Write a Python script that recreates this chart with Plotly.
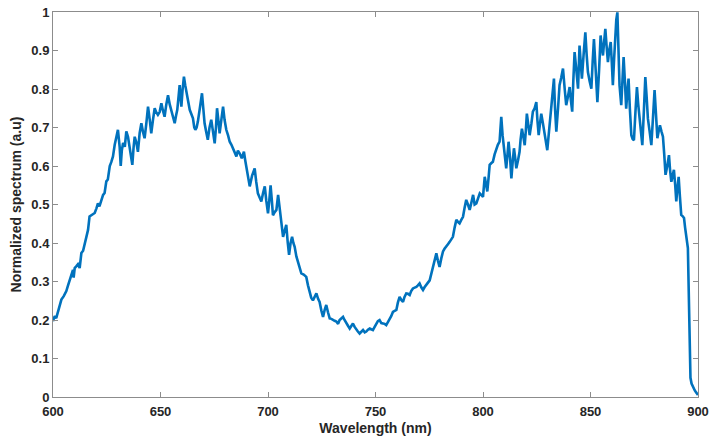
import plotly.graph_objects as go

wavelength = [
    600.0, 600.8, 601.5, 602.3, 603.1, 603.9, 605.0, 606.2, 607.0, 607.8, 608.5, 609.3, 609.6, 610.1, 610.9,
    611.6, 612.4, 613.2, 614.0, 614.7, 615.5, 616.3, 617.0, 618.0, 619.4, 620.2, 620.9, 621.6, 622.5, 623.3,
    624.0, 624.8, 625.5, 626.4, 627.1, 627.9, 628.7, 629.5, 630.2, 631.0, 631.5, 632.0, 632.6, 633.4, 634.1,
    634.9, 635.7, 636.3, 636.9, 637.5, 638.0, 638.8, 639.5, 640.3, 641.1, 641.8, 642.6, 643.4, 644.2, 645.0,
    645.7, 646.5, 647.3, 648.0, 648.8, 649.6, 650.4, 651.1, 651.9, 652.7, 653.5, 654.3, 655.0, 655.8, 656.6,
    657.2, 657.8, 658.4, 658.9, 659.3, 659.7, 660.3, 660.9, 661.5, 662.0, 662.8, 663.6, 664.4, 665.1, 665.7,
    666.2, 666.8, 667.4, 668.3, 669.3, 669.9, 670.5, 671.2, 672.0, 672.8, 673.6, 674.4, 675.2, 675.8, 676.3,
    676.9, 677.5, 678.3, 679.1, 679.8, 680.6, 681.4, 682.2, 683.0, 683.7, 684.5, 685.3, 686.0, 686.8, 687.8,
    688.8, 689.4, 689.9, 690.7, 691.5, 692.6, 693.8, 694.5, 695.3, 696.1, 696.9, 697.7, 698.5, 699.2, 700.0,
    700.6, 701.2, 701.8, 702.3, 703.1, 703.9, 704.7, 705.3, 705.9, 706.5, 707.0, 707.7, 708.5, 709.2, 709.8,
    710.5, 711.2, 711.8, 712.4, 713.2, 714.0, 714.8, 715.5, 716.6, 717.8, 718.6, 719.4, 720.1, 720.9, 721.7,
    722.5, 723.3, 724.0, 724.8, 725.6, 726.3, 727.1, 727.9, 728.7, 729.5, 730.2, 731.0, 731.8, 732.6, 733.3,
    734.1, 734.9, 735.6, 736.4, 737.2, 738.0, 738.7, 739.5, 740.3, 741.1, 741.8, 742.6, 743.4, 744.2, 745.0,
    745.7, 746.5, 747.3, 748.0, 748.8, 749.6, 750.4, 751.1, 751.9, 752.7, 753.5, 754.3, 755.0, 755.8, 756.6,
    757.3, 758.1, 758.9, 759.7, 760.4, 761.2, 762.0, 762.8, 763.5, 764.3, 765.1, 765.9, 766.6, 767.4, 768.2,
    769.0, 769.7, 770.5, 771.3, 772.1, 772.8, 773.6, 774.4, 775.2, 775.9, 776.7, 777.5, 778.3, 779.0, 779.8,
    780.6, 781.4, 782.1, 782.9, 783.7, 784.5, 785.2, 786.0, 786.8, 787.6, 788.3, 789.1, 789.9, 790.7, 791.4,
    792.2, 793.0, 793.8, 794.6, 795.4, 796.1, 796.9, 797.7, 798.5, 799.2, 800.0, 800.8, 801.4, 802.0, 802.6,
    803.1, 803.8, 804.6, 805.4, 806.2, 806.9, 807.7, 808.5, 809.1, 809.7, 810.2, 810.8, 811.4, 811.9, 812.6,
    813.2, 813.8, 814.4, 815.0, 815.5, 816.3, 817.0, 817.5, 818.1, 818.8, 819.4, 819.9, 820.4, 821.0, 821.7,
    822.5, 823.2, 824.0, 824.8, 825.3, 825.9, 826.5, 827.1, 827.9, 828.7, 829.3, 829.9, 830.7, 831.5, 832.2,
    833.0, 833.5, 834.1, 834.9, 835.6, 836.4, 837.2, 838.0, 838.7, 839.5, 840.3, 840.9, 841.5, 842.0, 842.6,
    843.4, 844.2, 844.9, 845.5, 846.0, 846.8, 847.6, 848.2, 848.8, 849.6, 850.4, 851.0, 851.6, 852.4, 853.2,
    854.0, 854.7, 855.2, 855.8, 856.3, 856.9, 857.5, 858.1, 858.7, 859.4, 859.9, 860.4, 861.0, 861.5, 862.0,
    862.5, 863.0, 863.5, 864.3, 864.9, 865.4, 866.0, 866.6, 867.1, 867.7, 868.3, 869.0, 869.6, 870.2, 870.9,
    871.6, 872.2, 872.8, 873.5, 874.1, 874.8, 875.5, 876.1, 876.7, 877.5, 878.3, 879.0, 879.8, 880.5, 881.1,
    881.7, 882.3, 883.0, 883.7, 884.3, 884.9, 885.7, 886.5, 887.0, 887.6, 888.2, 888.8, 889.4, 889.9, 890.4,
    891.0, 891.6, 892.2, 892.8, 893.5, 894.0, 894.5, 895.0, 895.3, 895.6, 895.9, 896.2, 896.5, 897.0, 897.5,
    898.0, 898.5, 899.0, 899.5, 900.0,
]

spectrum = [
    0.197, 0.21, 0.205, 0.22, 0.24, 0.253, 0.262, 0.275, 0.29, 0.305, 0.315, 0.33, 0.31, 0.335, 0.34,
    0.345, 0.335, 0.374, 0.38, 0.395, 0.41, 0.434, 0.469, 0.472, 0.478, 0.49, 0.503, 0.495, 0.515, 0.525,
    0.53, 0.56, 0.565, 0.6, 0.61, 0.625, 0.655, 0.676, 0.694, 0.65, 0.6, 0.64, 0.66, 0.65, 0.69,
    0.675, 0.65, 0.63, 0.603, 0.65, 0.676, 0.66, 0.637, 0.685, 0.711, 0.69, 0.672, 0.71, 0.754, 0.72,
    0.685, 0.72, 0.75, 0.74, 0.733, 0.74, 0.763, 0.745, 0.728, 0.76, 0.784, 0.76, 0.746, 0.73, 0.711,
    0.73, 0.746, 0.78, 0.81, 0.78, 0.754, 0.80, 0.832, 0.81, 0.789, 0.77, 0.746, 0.735, 0.724, 0.70,
    0.694, 0.70, 0.716, 0.75, 0.789, 0.75, 0.711, 0.69, 0.668, 0.70, 0.72, 0.69, 0.659, 0.70, 0.75,
    0.72, 0.685, 0.72, 0.754, 0.72, 0.694, 0.68, 0.663, 0.655, 0.646, 0.635, 0.625, 0.64, 0.633, 0.62,
    0.637, 0.615, 0.6, 0.57, 0.547, 0.575, 0.594, 0.56, 0.529, 0.518, 0.508, 0.53, 0.547, 0.51, 0.477,
    0.51, 0.55, 0.51, 0.472, 0.48, 0.486, 0.525, 0.49, 0.46, 0.44, 0.416, 0.435, 0.447, 0.40, 0.369,
    0.40, 0.416, 0.40, 0.39, 0.365, 0.347, 0.33, 0.321, 0.318, 0.312, 0.29, 0.269, 0.258, 0.251, 0.262,
    0.269, 0.255, 0.247, 0.225, 0.208, 0.225, 0.239, 0.22, 0.204, 0.203, 0.2, 0.198, 0.196, 0.19, 0.2,
    0.204, 0.208, 0.2, 0.191, 0.185, 0.178, 0.185, 0.191, 0.182, 0.174, 0.17, 0.165, 0.17, 0.174, 0.168,
    0.17, 0.175, 0.178, 0.176, 0.174, 0.182, 0.191, 0.197, 0.2, 0.192, 0.191, 0.19, 0.187, 0.195, 0.2,
    0.21, 0.221, 0.223, 0.226, 0.245, 0.26, 0.252, 0.247, 0.26, 0.269, 0.268, 0.265, 0.275, 0.282, 0.284,
    0.286, 0.29, 0.295, 0.285, 0.278, 0.285, 0.29, 0.297, 0.303, 0.32, 0.334, 0.355, 0.373, 0.355, 0.338,
    0.36, 0.378, 0.385, 0.39, 0.397, 0.403, 0.41, 0.416, 0.44, 0.46, 0.455, 0.451, 0.46, 0.468, 0.49,
    0.512, 0.50, 0.486, 0.505, 0.525, 0.50, 0.503, 0.516, 0.529, 0.525, 0.52, 0.572, 0.55, 0.534, 0.57,
    0.603, 0.607, 0.611, 0.63, 0.646, 0.655, 0.663, 0.728, 0.68, 0.646, 0.62, 0.594, 0.63, 0.663, 0.62,
    0.568, 0.61, 0.646, 0.62, 0.594, 0.615, 0.637, 0.67, 0.697, 0.675, 0.654, 0.69, 0.736, 0.71, 0.68,
    0.71, 0.741, 0.75, 0.766, 0.72, 0.68, 0.71, 0.736, 0.71, 0.68, 0.66, 0.641, 0.69, 0.736, 0.78,
    0.827, 0.75, 0.689, 0.75, 0.81, 0.83, 0.853, 0.80, 0.758, 0.78, 0.805, 0.77, 0.741, 0.82, 0.896,
    0.85, 0.801, 0.913, 0.87, 0.827, 0.89, 0.947, 0.89, 0.844, 0.82, 0.801, 0.87, 0.93, 0.85, 0.766,
    0.85, 0.939, 0.91, 0.887, 0.92, 0.956, 0.91, 0.87, 0.90, 0.922, 0.87, 0.81, 0.88, 0.956, 0.98,
    0.999, 0.9, 0.81, 0.758, 0.82, 0.883, 0.82, 0.749, 0.79, 0.827, 0.75, 0.68, 0.67, 0.667, 0.74,
    0.805, 0.76, 0.723, 0.69, 0.654, 0.74, 0.831, 0.78, 0.723, 0.69, 0.654, 0.72, 0.797, 0.73, 0.672,
    0.69, 0.706, 0.69, 0.676, 0.63, 0.577, 0.60, 0.628, 0.59, 0.559, 0.575, 0.59, 0.55, 0.508, 0.54,
    0.572, 0.52, 0.473, 0.47, 0.465, 0.44, 0.422, 0.40, 0.387, 0.30, 0.17, 0.08, 0.05, 0.035, 0.028,
    0.022, 0.017, 0.013, 0.009, 0.005,
]

x_ticks = [600, 650, 700, 750, 800, 850, 900]
y_ticks = [0, 0.1, 0.2, 0.3, 0.4, 0.5, 0.6, 0.7, 0.8, 0.9, 1]

FONT = "Liberation Sans, Arial, sans-serif"
AXIS_COLOR = "#8c8c8c"

fig = go.Figure(
    go.Scatter(
        x=wavelength,
        y=spectrum,
        mode="lines",
        line=dict(color="#0072BD", width=2.6),
        showlegend=False,
        cliponaxis=True,
    )
)

common = dict(
    showline=True,
    linecolor=AXIS_COLOR,
    linewidth=1,
    mirror="ticks",
    ticks="inside",
    ticklen=5,
    tickcolor=AXIS_COLOR,
    tickwidth=1,
    showgrid=False,
    zeroline=False,
    automargin=False,
    tickfont=dict(family=FONT, size=13, color="#262626", weight="bold"),
)

fig.update_xaxes(
    range=[600, 900],
    tickvals=x_ticks,
    ticktext=[str(v) for v in x_ticks],
    ticklabelstandoff=2,
    title=dict(text="Wavelength (nm)", font=dict(family=FONT, size=14, color="#262626", weight="bold"), standoff=5),
    **common,
)
fig.update_yaxes(
    range=[0, 1],
    tickvals=y_ticks,
    ticktext=[("%g" % v) for v in y_ticks],
    title=dict(text="Normalized spectrum (a.u)", font=dict(family=FONT, size=14, color="#262626", weight="bold"), standoff=6),
    **common,
)

fig.update_layout(
    width=711,
    height=443,
    margin=dict(l=53, r=13, t=12, b=46),
    plot_bgcolor="white",
    paper_bgcolor="white",
)

fig.write_html(
    "out.html",
    config={"displayModeBar": False},
    post_script="document.body.style.margin='0';document.body.style.overflow='hidden';",
)
